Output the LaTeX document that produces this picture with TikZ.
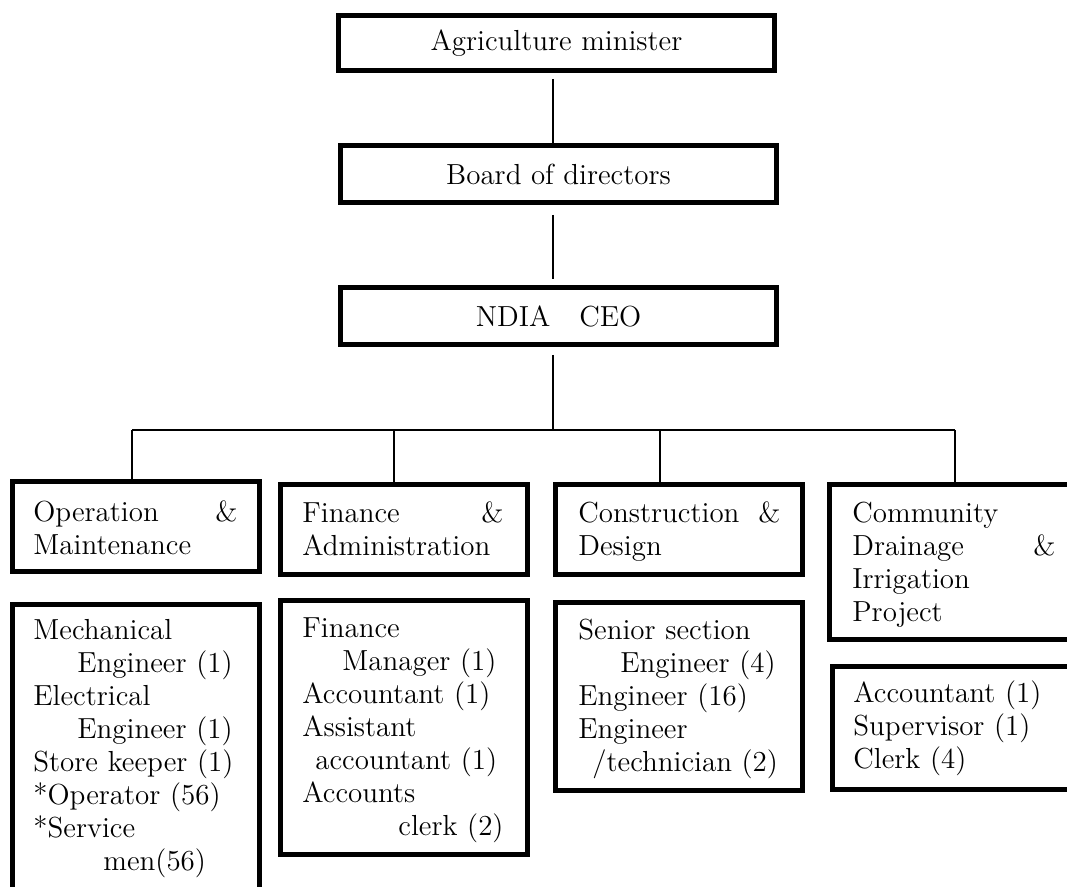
\documentclass[tikz,border=0pt]{standalone}
\begin{document}
\begin{tikzpicture}[x=0.5pt,y=-0.5pt,
  box/.style={draw, line width=2.5pt, rectangle, inner sep=0pt},
  topbox/.style={box, minimum width=218pt, font=\fontsize{14.5}{16.5}\selectfont},
  unitbox/.style={box, minimum width=123.5pt},
  conn/.style={line width=1pt},
  txt/.style={anchor=base west, inner sep=0pt, align=left,
    font=\fontsize{14.5}{16.5}\selectfont}]
\useasboundingbox (0,0) rectangle (1067,887);
\clip (0,0) rectangle (1067,887);

% top of the hierarchy
\node[topbox, minimum height=27.5pt] (minister) at (556.5,43) {Agriculture minister};
\node[topbox, minimum height=28.5pt] (board) at (558.5,174) {Board of directors};
\node[topbox, minimum height=28.5pt] (ceo) at (558.5,316) {NDIA\quad CEO};

% departments
\node[unitbox, minimum height=45pt] (om) at (136,526.5) {};
\node[unitbox, minimum height=45pt] (fa) at (403.5,529.5) {};
\node[unitbox, minimum height=45pt] (cd) at (679,529.5) {};
\node[unitbox, minimum height=77.5pt] (cdip) at (953,562) {};

% staff of each department
\node[unitbox, minimum height=155pt, anchor=north] (omstaff) at (136,602.5) {};
\node[unitbox, minimum height=127pt] (fastaff) at (403.5,727.5) {};
\node[unitbox, minimum height=94pt] (cdstaff) at (679,696.5) {};
\node[unitbox, minimum height=61.5pt] (cdipstaff) at (956,728) {};

% department names
\node[txt, text width=102pt] (omname) at (33,522) {Operation\hfill\&\\Maintenance};
\node[txt, text width=100.5pt] (faname) at (302,523) {Finance\hfill\&\\Administration};
\node[txt, text width=101pt] (cdname) at (578,523) {Construction\hfill\&\\Design};
\node[txt, text width=101.5pt] (cdipname) at (852,523) {Community\\Drainage\hfill\&\\Irrigation\\Project};

% staff lists
\node[txt, text width=115pt] (omlist) at (33,640) {Mechanical\\\hspace*{22pt}Engineer (1)\\Electrical\\\hspace*{22pt}Engineer (1)\\Store keeper (1)\\{}*Operator (56)\\{}*Service\\\hspace*{35pt}men(56)};
\node[txt, text width=115pt] (falist) at (302,638) {Finance\\\hspace*{20pt}Manager (1)\\Accountant (1)\\Assistant\\\hspace*{6.5pt}accountant (1)\\Accounts\\\hspace*{48pt}clerk (2)};
\node[txt, text width=115pt] (cdlist) at (578,640) {Senior section\\\hspace*{21pt}Engineer (4)\\Engineer (16)\\Engineer\\\hspace*{7pt}/technician (2)};
\node[txt, text width=115pt] (cdiplist) at (853,703) {Accountant (1)\\Supervisor (1)\\Clerk (4)};

% connectors
\coordinate (spine) at (553,0);
\coordinate (bus) at (553,430);
\coordinate (busL) at (132,430);
\coordinate (busFA) at (394,430);
\coordinate (busCD) at (660,430);
\coordinate (busR) at (955,430);
\draw[conn, shorten <=3pt] (minister.south -| spine) -- (board.north -| spine);
\draw[conn, shorten <=5pt, shorten >=3pt] (board.south -| spine) -- (ceo.north -| spine);
\draw[conn, shorten <=4pt] (ceo.south -| spine) -- (bus);
\draw[conn] (busL) -- (busR);
\draw[conn] (busL) -- (busL |- om.north);
\draw[conn] (busFA) -- (busFA |- fa.north);
\draw[conn] (busCD) -- (busCD |- cd.north);
\draw[conn] (busR) -- (busR |- cdip.north);
\end{tikzpicture}
\end{document}
